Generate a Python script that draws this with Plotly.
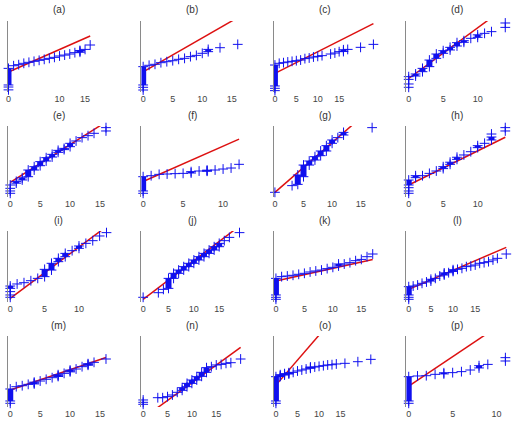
import plotly.graph_objects as go

# ---------------- data (x = sample values, y = theoretical quantile, arbitrary units 0-100) ----------------
# (a)
a_px = [0, 0, 1, 2, 3, 4, 5, 6, 7, 8, 9, 10, 11, 12, 13, 14, 15, 16]
a_py = [7, 3, 37, 38.5, 40.4, 41.8, 43.2, 44.6, 46, 47.4, 48.8, 50.7, 52, 53.5, 55.4, 57.7, 60, 66.2]
a_bx = [0, 14]; a_blo = [9.9, 56]; a_bhi = [33.3, 58.5]
a_lx = [0, 16]; a_ly = [28.2, 78.9]
a_ticks = [0, 10, 15]
# (b)
b_px = [0, 0, 1, 2, 3, 4, 5, 6, 7, 8, 9, 10, 13, 16]
b_py = [6.6, 2.8, 37.6, 39, 41.3, 42.7, 44.1, 46, 47.4, 49.8, 51.6, 54.5, 62.4, 67.1]
b_bx = [0, 11]; b_blo = [9.9, 56.8]; b_bhi = [35.7, 60]
b_lx = [0, 16]; b_ly = [28.3, 104.8]
b_ticks = [0, 5, 10, 15]
# (c)
c_px = [0, 0, 1, 2, 3, 4, 5, 6, 7, 8, 9, 10, 11, 13, 14, 15, 17, 20, 23]
c_py = [5.2, 1.9, 40.4, 41.3, 42.3, 43.2, 44.1, 45, 47, 47.9, 49.3, 50.2, 51.2, 53.5, 54.9, 56.8, 60, 62.9, 67.1]
c_bx = [0, 16]; c_blo = [8.5, 57]; c_bhi = [38, 59.5]
c_lx = [0, 23]; c_ly = [26.2, 96.4]
c_ticks = [0, 5, 10, 15]
# (d)
d_px = [0, 0, 0, 0, 9, 11, 12, 14, 14]
d_py = [21.6, 17.8, 11.3, 6.6, 75.6, 82.6, 85, 97.2, 91]
d_bx = [1, 2, 3, 4, 5, 6, 7, 8, 10]
d_blo = [22.5, 28.6, 35.7, 47.4, 54.5, 59.2, 64.8, 70, 77]
d_bhi = [25.4, 33.3, 45, 53.5, 58.2, 62.9, 69.5, 72.3, 80.5]
d_lx = [0, 14]; d_ly = [19, 119]
d_ticks = [0, 5, 10]
# (e)
e_px = [0, 0, 0, 0, 11, 12, 13, 14, 16, 16]
e_py = [16.9, 12.2, 8.5, 5.2, 78.9, 83.6, 86.4, 89.7, 97.7, 93]
e_bx = [1, 2, 3, 4, 5, 6, 7, 8, 9, 10]
e_blo = [19.5, 24, 28.6, 38, 44.1, 50.7, 56.3, 62.9, 66.7, 70.9]
e_bhi = [22, 27, 38, 42.7, 49.8, 55.4, 60.1, 65.7, 68.5, 75.6]
e_lx = [0, 16]; e_ly = [20.7, 105.7]
e_ticks = [0, 5, 10, 15]
# (f)
f_px = [0, 1, 2, 3, 4, 5, 7, 8, 9, 10, 11, 12]
f_py = [5.2, 30, 31.9, 32.4, 32.9, 33.3, 36.6, 37, 38, 39.4, 40.8, 46]
f_bx = [0, 6, 8]; f_blo = [8.5, 33.8, 36.3]; f_bhi = [28.6, 35.7, 37.8]
f_lx = [0, 12]; f_ly = [21.9, 81.5]
f_ticks = [0, 5, 10]
# (g)
g_px = [0, 3, 11, 17]
g_py = [6.6, 16, 83.6, 97.7]
g_bx = [4, 5, 6, 7, 8, 9, 10, 12]
g_blo = [17.8, 28.6, 45, 52.1, 58.2, 64.8, 75.6, 87.3]
g_bhi = [31, 45, 50.7, 56.8, 64.8, 72.3, 80.3, 91]
g_lx = [0, 17]; g_ly = [6.6, 125.6]
g_ticks = [0, 5, 10, 15]
# (h)
h_px = [0, 0, 0, 2, 3, 4, 8, 9, 11, 12, 14, 14]
h_py = [13.1, 8.5, 5.2, 30, 33.3, 36.6, 59.2, 63.8, 75.6, 88.7, 97.7, 93]
h_bx = [0, 1, 5, 6, 7, 10, 12]
h_blo = [16.9, 27.2, 40, 46, 53, 69.5, 80.3]
h_bhi = [23.9, 30, 42.7, 49, 56, 72.3, 84.5]
h_lx = [0, 14]; h_ly = [16.9, 84.1]
h_ticks = [0, 5, 10]
# (i)
i_px = [0, 0, 0, 1, 2, 3, 4, 9, 11, 12, 13, 14]
i_py = [14.6, 9.9, 6.6, 25.4, 27.2, 30, 33.3, 72.3, 82.6, 86.4, 93, 97.7]
i_bx = [0, 5, 6, 7, 8, 10]
i_blo = [19.2, 35.7, 45, 56.8, 63.8, 75.6]
i_bhi = [22.5, 46, 54.5, 61.5, 68.5, 78.9]
i_lx = [0, 14]; i_ly = [5.2, 106.3]
i_ticks = [0, 5, 10]
# (j)
j_px = [0, 3, 4, 16, 17, 19]
j_py = [6.6, 13.1, 17.8, 86.4, 91, 97.7]
j_bx = [5, 6, 7, 8, 9, 10, 11, 12, 13, 14, 15]
j_blo = [19.2, 33.3, 40.4, 45, 49.8, 54.5, 59.2, 63.8, 68.5, 73.2, 77.9]
j_bhi = [33.3, 40.4, 45, 49.8, 54.5, 59.2, 63.8, 68.5, 73.2, 77.9, 82.6]
j_lx = [0, 19]; j_ly = [3.8, 107]
j_ticks = [0, 5, 10, 15]
# (k)
k_px = [0, 0, 1, 2, 3, 4, 5, 6, 7, 8, 9, 10, 12, 13, 14, 15, 16, 17]
k_py = [6.6, 3.8, 35.7, 36.6, 37.6, 39, 40.4, 42.3, 43.7, 45, 47, 48.8, 53.5, 55.4, 58.2, 60, 63.8, 67.6]
k_bx = [0, 11]; k_blo = [9.9, 50.7]; k_bhi = [33.3, 53.5]
k_lx = [0, 17]; k_ly = [29.7, 60]
k_ticks = [0, 5, 10, 15]
# (l)
l_px = [0, 0, 1, 2, 3, 4, 6, 7, 8, 9, 10, 11, 12, 13, 14, 15, 16, 17, 18, 19, 20, 22]
l_py = [6.6, 3.8, 22.5, 23.9, 26.3, 28.2, 33.3, 36.6, 39.4, 41.3, 44.1, 46, 47.4, 49.8, 50.7,
        52.1, 54.5, 55.4, 56.8, 59.2, 61.5, 67.6]
l_bx = [0, 5, 8, 10]; l_blo = [9.9, 29.5, 38, 43]; l_bhi = [21.6, 32, 41, 45.5]
l_lx = [0, 22]; l_ly = [17.8, 77]
l_ticks = [0, 5, 10, 15]
# (m)
m_px = [0, 1, 2, 3, 4, 5, 6, 7, 8, 9, 10, 11, 12, 13, 14, 16]
m_py = [5.2, 28.6, 30, 31.9, 33.8, 36.6, 39, 41.3, 44.1, 47.4, 50.7, 53.5, 56.8, 60, 62.9, 67.6]
m_bx = [0, 4, 8, 10, 13]; m_blo = [8.5, 32.5, 43, 49.5, 58.8]; m_bhi = [25.4, 35, 45.5, 52, 61]
m_lx = [0, 16]; m_ly = [23.9, 69.8]
m_ticks = [0, 5, 10, 15]
# (n)
n_px = [0, 0, 0, 3, 4, 5, 6, 7, 14, 15, 16, 17, 18, 20]
n_py = [9.9, 6.6, 3.8, 13.1, 13.1, 14.6, 16.9, 20.7, 56.8, 59.2, 60, 61.5, 62.4, 67.6]
n_bx = [8, 9, 10, 11, 12, 13]
n_blo = [23.5, 28.6, 33.3, 38, 43.2, 48.8]
n_bhi = [27.2, 33.3, 38, 42.7, 48.8, 55.4]
n_lx = [0, 20]; n_ly = [-15.7, 84.1]
n_ticks = [0, 5, 10, 15]
# (o)
o_px = [0, 1, 2, 3, 4, 5, 6, 7, 8, 9, 10, 11, 12, 13, 14, 16, 19, 22]
o_py = [5.2, 44.1, 46, 47.4, 48.8, 50.7, 52.1, 53.5, 55.4, 56.3, 57.3, 58.2, 59.2, 59.6, 60.6, 61.5, 63.8, 67.1]
o_bx = [0, 1, 2, 3, 8]; o_blo = [8.5, 43, 45, 46.5, 54.5]; o_bhi = [42.7, 45.5, 47, 48.3, 56.3]
o_lx = [0, 22]; o_ly = [30.8, 185.7]
o_ticks = [0, 5, 10, 15]
# (p)
p_px = [0, 1, 2, 3, 5, 6, 7, 9, 11, 11]
p_py = [5.2, 43.7, 44.1, 46, 48.4, 49.8, 52.1, 60, 69.5, 64.8]
p_bx = [0, 4, 8]; p_blo = [8.5, 46.6, 55]; p_bhi = [42.7, 48.2, 58.2]
p_lx = [0, 11]; p_ly = [29.4, 120.7]
p_ticks = [0, 5, 10]

LETTERS = list("abcdefghijklmnop")
G = globals()
PANELS = {L: dict(px=G[L + "_px"], py=G[L + "_py"], bx=G[L + "_bx"], blo=G[L + "_blo"],
                  bhi=G[L + "_bhi"], lx=G[L + "_lx"], ly=G[L + "_ly"], ticks=G[L + "_ticks"])
          for L in LETTERS}

# ---------------- axis settings ----------------
X_RANGES = {
    "a": [-0.1, 19.8], "b": [-0.29, 16.9], "c": [-0.23, 23.5], "d": [-0.33, 14.4],
    "e": [-0.38, 16.6], "f": [-0.21, 12.5], "g": [-0.17, 17.6], "h": [-0.33, 14.4],
    "i": [-0.33, 14.45], "j": [-0.33, 19.7], "k": [-0.35, 17.5], "l": [-0.52, 22.4],
    "m": [-0.38, 16.6], "n": [-0.35, 20.5], "o": [-0.46, 23.1], "p": [-0.26, 11.3],
}

W, H = 517, 432
COL_LEFT = [6, 140, 273, 406]
COL_W = 102
ROW_TOP = [21, 126, 231, 336]
ROW_H = 71

BLUE = "#1010ee"
RED = "#dd1111"
FONT = "Liberation Sans, Arial, sans-serif"

fig = go.Figure()
layout = dict(width=W, height=H, margin=dict(l=0, r=0, t=0, b=0),
              paper_bgcolor="white", plot_bgcolor="white", showlegend=False,
              font=dict(family=FONT, size=9, color="#333"))
annotations = []

for idx, L in enumerate(LETTERS):
    r, c = divmod(idx, 4)
    n = idx + 1
    xa = "x" if n == 1 else f"x{n}"
    ya = "y" if n == 1 else f"y{n}"
    P = PANELS[L]
    x0 = COL_LEFT[c] / W
    x1 = (COL_LEFT[c] + COL_W) / W
    y1 = 1 - ROW_TOP[r] / H
    y0 = 1 - (ROW_TOP[r] + ROW_H) / H

    layout["xaxis" if n == 1 else f"xaxis{n}"] = dict(
        domain=[x0, x1], anchor=ya, range=X_RANGES[L], tickvals=P["ticks"],
        ticktext=[str(t) for t in P["ticks"]], showline=False, showgrid=False,
        zeroline=False, ticks="", tickfont=dict(size=9, color="#444"), fixedrange=True)
    layout["yaxis" if n == 1 else f"yaxis{n}"] = dict(
        domain=[y0, y1], anchor=xa, range=[0, 100], showline=True, linecolor="#8a8a8a",
        linewidth=1, showgrid=False, zeroline=False, ticks="", showticklabels=False,
        fixedrange=True)

    # reference line (drawn under the data)
    fig.add_trace(go.Scatter(x=P["lx"], y=P["ly"], mode="lines", xaxis=xa, yaxis=ya,
                             line=dict(color=RED, width=1.5), hoverinfo="skip"))
    # dense runs of coincident samples
    bxs, bys = [], []
    ex, ey = [], []
    for bx, lo, hi in zip(P["bx"], P["blo"], P["bhi"]):
        bxs += [bx, bx, None]
        bys += [lo, hi, None]
        ex += [bx, bx]
        ey += [lo, hi]
    fig.add_trace(go.Scatter(x=bxs, y=bys, mode="lines", xaxis=xa, yaxis=ya,
                             line=dict(color=BLUE, width=6), hoverinfo="skip"))
    fig.add_trace(go.Scatter(x=list(P["px"]) + ex, y=list(P["py"]) + ey, mode="markers",
                             xaxis=xa, yaxis=ya, cliponaxis=False,
                             marker=dict(symbol="cross-thin", size=7,
                                         line=dict(color=BLUE, width=1))))

    annotations.append(dict(text=f"({L})", xref="paper", yref="paper",
                            x=(COL_LEFT[c] + COL_W / 2) / W,
                            y=1 - (ROW_TOP[r] - 11) / H, xanchor="center", yanchor="middle",
                            showarrow=False, font=dict(size=10, color="#333", family=FONT)))

layout["annotations"] = annotations
fig.update_layout(**layout)
fig.write_html("out.html")
